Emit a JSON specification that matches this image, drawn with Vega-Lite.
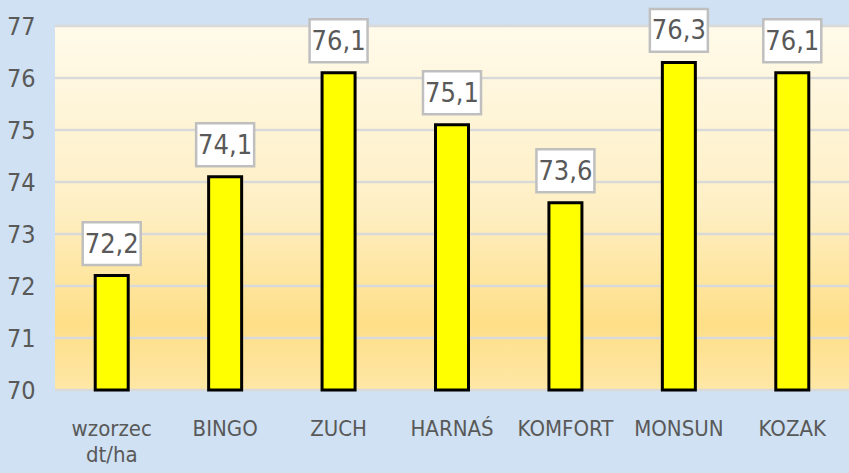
{
  "$schema": "https://vega.github.io/schema/vega-lite/v6.json",
  "width": 794,
  "height": 364,
  "autosize": {"type": "none"},
  "padding": {"left": 55, "top": 26, "right": 0, "bottom": 83},
  "background": "#cfe1f2",
  "config": {
    "view": {"stroke": null},
    "font": "Liberation Sans Narrow, DejaVu Sans Condensed, sans-serif"
  },
  "data": {
    "values": [
      {"odmiana": "wzorzec dt/ha", "plon": 72.2, "etykieta": "72,2"},
      {"odmiana": "BINGO", "plon": 74.1, "etykieta": "74,1"},
      {"odmiana": "ZUCH", "plon": 76.1, "etykieta": "76,1"},
      {"odmiana": "HARNAŚ", "plon": 75.1, "etykieta": "75,1"},
      {"odmiana": "KOMFORT", "plon": 73.6, "etykieta": "73,6"},
      {"odmiana": "MONSUN", "plon": 76.3, "etykieta": "76,3"},
      {"odmiana": "KOZAK", "plon": 76.1, "etykieta": "76,1"}
    ]
  },
  "layer": [
    {
      "mark": {
        "type": "rect",
        "fill": {
          "gradient": "linear",
          "x1": 0, "y1": 0, "x2": 0, "y2": 1,
          "stops": [
            {"offset": 0, "color": "#fffaea"},
            {"offset": 0.5, "color": "#feefc4"},
            {"offset": 0.82, "color": "#fedf88"},
            {"offset": 1, "color": "#fee7a6"}
          ]
        }
      },
      "encoding": {
        "y": {"datum": 77, "type": "quantitative", "scale": {"domain": [70, 77], "zero": false},
          "axis": {
            "title": null,
            "values": [70, 71, 72, 73, 74, 75, 76, 77],
            "format": "d",
            "domain": false,
            "ticks": false,
            "grid": false,
            "labelPadding": 20,
            "labelFontSize": 25,
            "labelColor": "#595959",
            "labelAlign": "right"
          }},
        "y2": {"datum": 70}
      }
    },
    {
      "data": {"values": [{"g": 70}, {"g": 71}, {"g": 72}, {"g": 73}, {"g": 74}, {"g": 75}, {"g": 76}, {"g": 77}]},
      "mark": {"type": "rule", "color": "#d9d9d9", "strokeWidth": 2.5},
      "encoding": {"y": {"field": "g", "type": "quantitative"}}
    },
    {
      "mark": {"type": "bar", "fill": "#ffff00", "stroke": "#000000", "strokeWidth": 3, "width": 33},
      "encoding": {
        "x": {
          "field": "odmiana",
          "type": "nominal",
          "sort": null,
          "scale": {"paddingInner": 0.7, "paddingOuter": 0.35},
          "axis": {
            "title": null,
            "labelAngle": 0,
            "domain": false,
            "ticks": false,
            "labelPadding": 28,
            "labelFontSize": 22,
            "labelColor": "#595959",
            "labelLineHeight": 26,
            "labelExpr": "datum.value == 'wzorzec dt/ha' ? ['wzorzec', 'dt/ha'] : datum.label"
          }
        },
        "y": {"field": "plon", "type": "quantitative"},
        "y2": {"datum": 70}
      }
    },
    {
      "mark": {
        "type": "point",
        "shape": "M-1,-0.74L1,-0.74L1,0.74L-1,0.74Z",
        "size": 3364,
        "filled": true,
        "fill": "#ffffff",
        "stroke": "#bfbfbf",
        "strokeWidth": 2.5,
        "opacity": 1,
        "yOffset": -32
      },
      "encoding": {
        "x": {"field": "odmiana", "type": "nominal", "sort": null},
        "y": {"field": "plon", "type": "quantitative"}
      }
    },
    {
      "mark": {"type": "text", "fontSize": 27, "color": "#595959", "baseline": "middle", "dy": -31},
      "encoding": {
        "x": {"field": "odmiana", "type": "nominal", "sort": null},
        "y": {"field": "plon", "type": "quantitative"},
        "text": {"field": "etykieta"}
      }
    }
  ]
}
